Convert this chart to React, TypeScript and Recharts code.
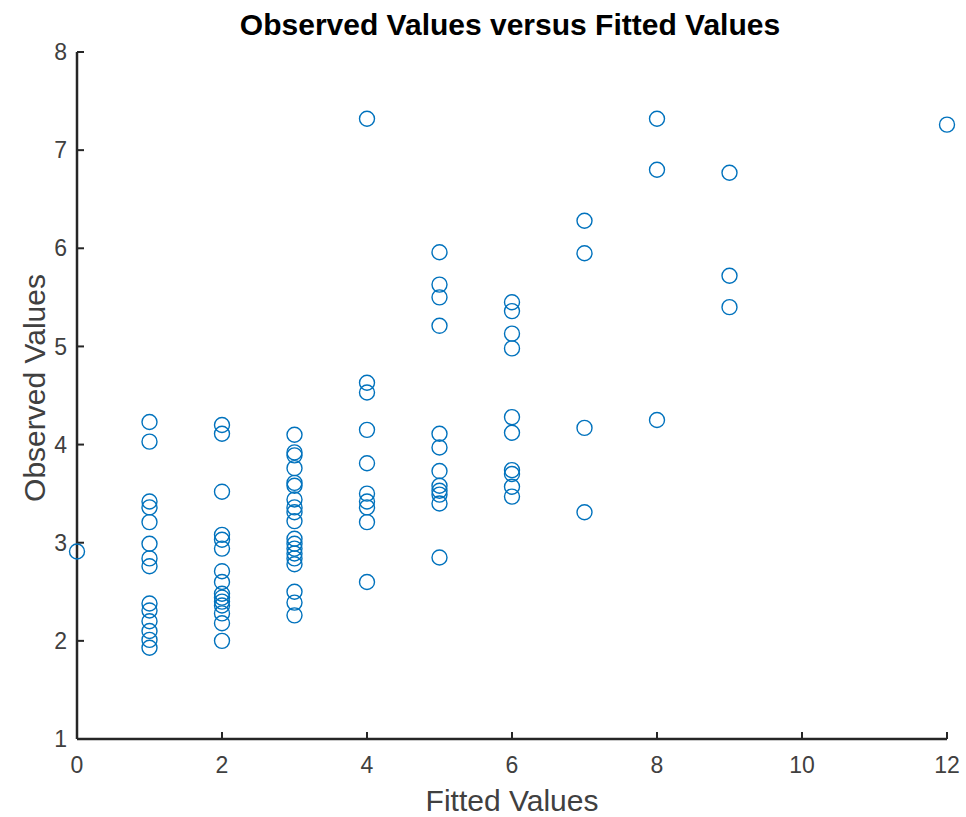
import { Label, Scatter, ScatterChart, XAxis, YAxis } from "recharts";

// observed values, grouped by the fitted value they sit on
const fittedLevels = [0, 1, 2, 3, 4, 5, 6, 7, 8, 9, 12];

const obsAt0 = [2.91];
const obsAt1 = [4.23, 4.03, 3.42, 3.36, 3.21, 2.99, 2.84, 2.76, 2.38, 2.31, 2.2, 2.1, 2.01, 1.93];
const obsAt2 = [4.2, 4.11, 3.52, 3.08, 3.03, 2.94, 2.71, 2.6, 2.48, 2.44, 2.4, 2.36, 2.28, 2.18, 2.0];
const obsAt3 = [4.1, 3.92, 3.89, 3.76, 3.61, 3.58, 3.44, 3.36, 3.31, 3.22, 3.04, 2.99, 2.94, 2.89, 2.84, 2.78, 2.5, 2.39, 2.26];
const obsAt4 = [7.32, 4.63, 4.53, 4.15, 3.81, 3.5, 3.42, 3.36, 3.21, 2.6];
const obsAt5 = [5.96, 5.63, 5.5, 5.21, 4.11, 3.97, 3.73, 3.58, 3.53, 3.49, 3.4, 2.85];
const obsAt6 = [5.45, 5.36, 5.13, 4.98, 4.28, 4.12, 3.74, 3.7, 3.57, 3.47];
const obsAt7 = [6.28, 5.95, 4.17, 3.31];
const obsAt8 = [7.32, 6.8, 4.25];
const obsAt9 = [6.77, 5.72, 5.4];
const obsAt12 = [7.26];

const observedGroups = [obsAt0, obsAt1, obsAt2, obsAt3, obsAt4, obsAt5, obsAt6, obsAt7, obsAt8, obsAt9, obsAt12];

const xTicks = [0, 2, 4, 6, 8, 10, 12];
const yTicks = [1, 2, 3, 4, 5, 6, 7, 8];

const points = fittedLevels.flatMap((fitted, i) =>
  observedGroups[i].map((observed) => ({ fitted, observed }))
);

const FONT = "'Liberation Sans', Arial, Helvetica, sans-serif";
const AXIS = "#262626";

const Ring = (props: any) => (
  <circle cx={props.cx} cy={props.cy} r={7.5} fill="none" stroke="#0072BD" strokeWidth={1.4} />
);

const App = () => {
  return (
    <div style={{ position: "absolute", left: 0, top: 0, width: 966, height: 817, background: "#fff" }}>
      <div
        style={{
          position: "absolute",
          left: 0,
          top: 8,
          width: 1020,
          textAlign: "center",
          fontFamily: FONT,
          fontWeight: "bold",
          fontSize: 30,
          color: "#000",
        }}
      >
        Observed Values versus Fitted Values
      </div>
      <ScatterChart width={966} height={817} margin={{ top: 52, right: 19, bottom: 0, left: 0 }}>
        <XAxis
          type="number"
          dataKey="fitted"
          domain={[0, 12]}
          ticks={xTicks}
          height={78}
          tickSize={-7}
          tickMargin={25}
          axisLine={{ stroke: AXIS, strokeWidth: 2.5 }}
          tickLine={{ stroke: AXIS, strokeWidth: 2 }}
          tick={{ fill: "#404040", fontSize: 23, fontFamily: FONT }}
        >
          <Label
            value="Fitted Values"
            position="insideBottom"
            offset={6}
            style={{ fill: "#404040", fontSize: 30, fontFamily: FONT }}
          />
        </XAxis>
        <YAxis
          type="number"
          dataKey="observed"
          domain={[1, 8]}
          ticks={yTicks}
          width={77}
          tickSize={-7}
          tickMargin={17}
          axisLine={{ stroke: AXIS, strokeWidth: 2.5 }}
          tickLine={{ stroke: AXIS, strokeWidth: 2 }}
          tick={{ fill: "#404040", fontSize: 23, fontFamily: FONT }}
        >
          <Label
            content={() => (
              <text
                x={34}
                y={388}
                transform="rotate(-90 34 388)"
                textAnchor="middle"
                dominantBaseline="central"
                style={{ fill: "#404040", fontSize: 30, fontFamily: FONT }}
              >
                Observed Values
              </text>
            )}
          />
        </YAxis>
        <Scatter data={points} shape={Ring} isAnimationActive={false} />
      </ScatterChart>
    </div>
  );
};

export default App;
